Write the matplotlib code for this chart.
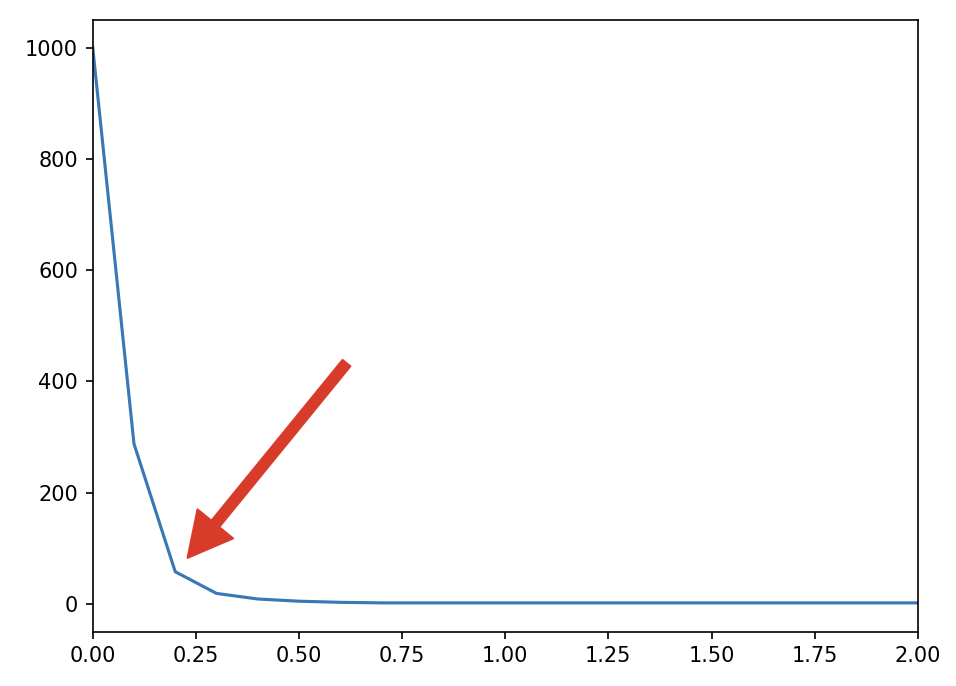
import matplotlib
matplotlib.use("Agg")
import matplotlib.pyplot as plt

# values (elbow-shaped decay)
x_vals = [0.0, 0.1, 0.2, 0.3, 0.4, 0.5, 0.6, 0.7, 0.8, 0.9, 1.0,
          1.1, 1.2, 1.3, 1.4, 1.5, 1.6, 1.7, 1.8, 1.9, 2.0]
y_vals = [1000, 288, 58, 19, 9, 5, 3, 2, 2, 2, 2,
          2, 2, 2, 2, 2, 2, 2, 2, 2, 2]

arrow_tip = (0.23, 83)
arrow_tail = (0.615, 433)

fig = plt.figure(figsize=(956 / 150, 686 / 150), dpi=150)
ax = fig.add_axes([0.097, 0.079, 0.863, 0.892])

ax.plot(x_vals, y_vals, color='#3a78b5', linewidth=1.5)
ax.set_xlim(0, 2)
ax.set_ylim(-50, 1050)
ax.set_xticks([0, 0.25, 0.5, 0.75, 1.0, 1.25, 1.5, 1.75, 2.0])
ax.set_yticks([0, 200, 400, 600, 800, 1000])

ax.annotate('', xy=arrow_tip, xytext=arrow_tail,
            arrowprops=dict(facecolor='#d93b2b', edgecolor='#d93b2b',
                            width=4.8, headwidth=22, headlength=21, shrink=0))

fig.savefig('out.png', dpi=150)
